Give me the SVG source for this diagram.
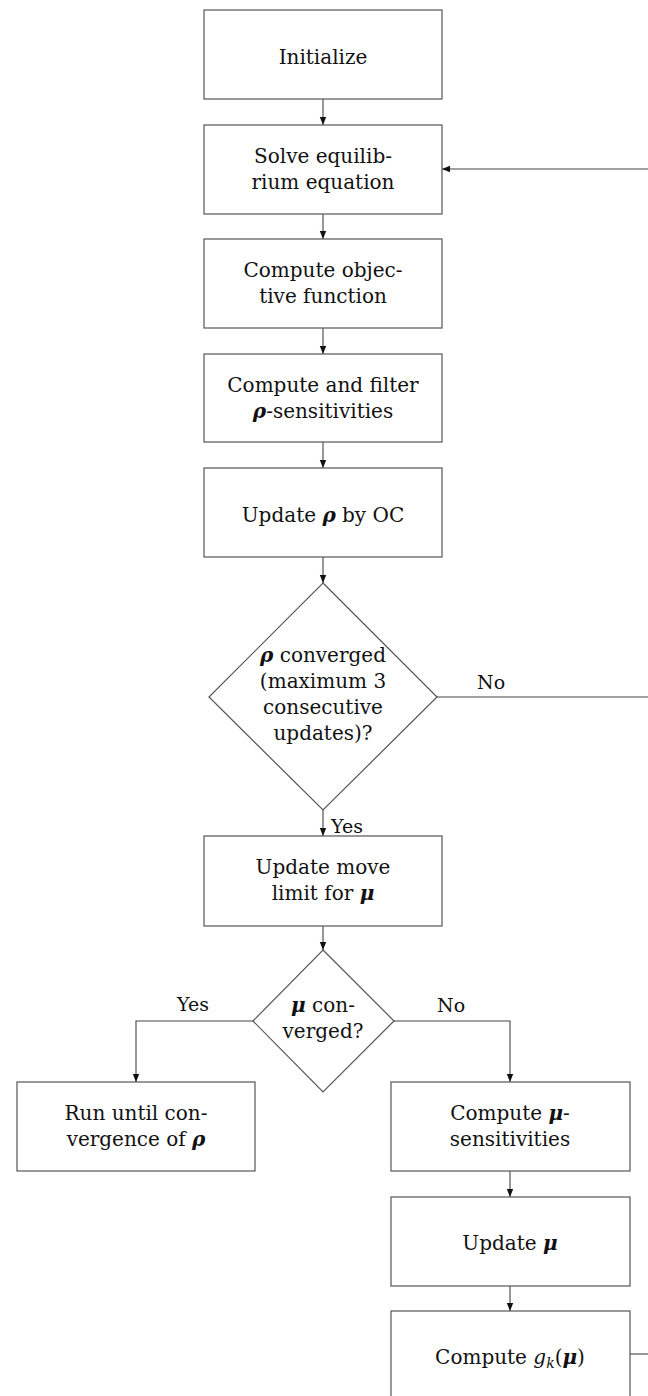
<svg xmlns="http://www.w3.org/2000/svg" width="648" height="1396" viewBox="0 0 648 1396" font-family="Liberation Serif, serif">
  <style>
    .box { fill: #fff; stroke: #555; stroke-width: 1.2; }
    .edge { fill: none; stroke: #444; stroke-width: 1.1; }
    .t { font-family: "DejaVu Serif", serif; font-size: 20px; fill: #111; text-anchor: middle; }
    .lbl { font-size: 19px; text-anchor: start; }
    .g { font-weight: bold; font-style: italic; }
    .it { font-style: italic; }
  </style>
  <defs>
    <marker id="arrow" viewBox="0 0 8 8" refX="8" refY="4" markerWidth="8" markerHeight="8" markerUnits="userSpaceOnUse" orient="auto">
      <path d="M0,0.8 L8,4 L0,7.2 Z" fill="#111"/>
    </marker>
  </defs>

  <rect width="648" height="1396" fill="#fff"/>

  <!-- connectors -->
  <g id="connectors">
    <path class="edge" d="M323,99 V125" marker-end="url(#arrow)"/>
    <path class="edge" d="M323,214 V239" marker-end="url(#arrow)"/>
    <path class="edge" d="M323,328 V354" marker-end="url(#arrow)"/>
    <path class="edge" d="M323,442 V468" marker-end="url(#arrow)"/>
    <path class="edge" d="M323,557 V583" marker-end="url(#arrow)"/>
    <!-- rho not converged: loop back to the solver -->
    <path class="edge" d="M437,697 H648"/>
    <path class="edge" d="M648,169 H442" marker-end="url(#arrow)"/>
    <path class="edge" d="M323,810 V836" marker-end="url(#arrow)"/>
    <path class="edge" d="M323,926 V950" marker-end="url(#arrow)"/>
    <!-- mu decision branches -->
    <path class="edge" d="M253,1021 H136 V1082" marker-end="url(#arrow)"/>
    <path class="edge" d="M394,1021 H510 V1082" marker-end="url(#arrow)"/>
    <path class="edge" d="M510,1171 V1197" marker-end="url(#arrow)"/>
    <path class="edge" d="M510,1286 V1311" marker-end="url(#arrow)"/>
    <path class="edge" d="M630,1354 H648"/>
    <text class="t lbl" x="477" y="689">No</text>
    <text class="t lbl" x="331" y="833">Yes</text>
    <text class="t lbl" x="177" y="1011">Yes</text>
    <text class="t lbl" x="437" y="1012">No</text>
  </g>

  <g id="initialize">
    <rect class="box" x="204" y="10" width="238" height="89"/>
    <text class="t" x="323" y="64">Initialize</text>
  </g>

  <g id="solve">
    <rect class="box" x="204" y="125" width="238" height="89"/>
    <text class="t" x="323" y="163">Solve equilib-</text>
    <text class="t" x="323" y="189">rium equation</text>
  </g>

  <g id="objective">
    <rect class="box" x="204" y="239" width="238" height="89"/>
    <text class="t" x="323" y="277">Compute objec-</text>
    <text class="t" x="323" y="303">tive function</text>
  </g>

  <g id="rho-sens">
    <rect class="box" x="204" y="354" width="238" height="88"/>
    <text class="t" x="323" y="392">Compute and filter</text>
    <text class="t" x="323" y="418"><tspan class="g">ρ</tspan>-sensitivities</text>
  </g>

  <g id="update-rho">
    <rect class="box" x="204" y="468" width="238" height="89"/>
    <text class="t" x="323" y="522">Update <tspan class="g">ρ</tspan> by OC</text>
  </g>

  <g id="rho-converged">
    <polygon class="box" points="323,583 437,697 323,810 209,697"/>
    <text class="t" x="323" y="662"><tspan class="g">ρ</tspan> converged</text>
    <text class="t" x="323" y="688">(maximum 3</text>
    <text class="t" x="323" y="714">consecutive</text>
    <text class="t" x="323" y="740">updates)?</text>
  </g>

  <g id="move-limit">
    <rect class="box" x="204" y="836" width="238" height="90"/>
    <text class="t" x="323" y="874">Update move</text>
    <text class="t" x="323" y="900">limit for <tspan class="g">μ</tspan></text>
  </g>

  <g id="mu-converged">
    <polygon class="box" points="323,950 394,1021 323,1092 253,1021"/>
    <text class="t" x="323" y="1012"><tspan class="g">μ</tspan> con-</text>
    <text class="t" x="323" y="1038">verged?</text>
  </g>

  <g id="run-rho">
    <rect class="box" x="17" y="1082" width="238" height="89"/>
    <text class="t" x="136" y="1120">Run until con-</text>
    <text class="t" x="136" y="1146">vergence of <tspan class="g">ρ</tspan></text>
  </g>

  <g id="mu-sens">
    <rect class="box" x="391" y="1082" width="239" height="89"/>
    <text class="t" x="510" y="1120">Compute <tspan class="g">μ</tspan>-</text>
    <text class="t" x="510" y="1146">sensitivities</text>
  </g>

  <g id="update-mu">
    <rect class="box" x="391" y="1197" width="239" height="89"/>
    <text class="t" x="510" y="1250">Update <tspan class="g">μ</tspan></text>
  </g>

  <g id="constraints">
    <rect class="box" x="391" y="1311" width="239" height="89"/>
    <text class="t" x="510" y="1364">Compute <tspan class="it">g</tspan><tspan class="it" font-size="14" dy="4">k</tspan><tspan dy="-4">(</tspan><tspan class="g">μ</tspan>)</text>
  </g>
</svg>
